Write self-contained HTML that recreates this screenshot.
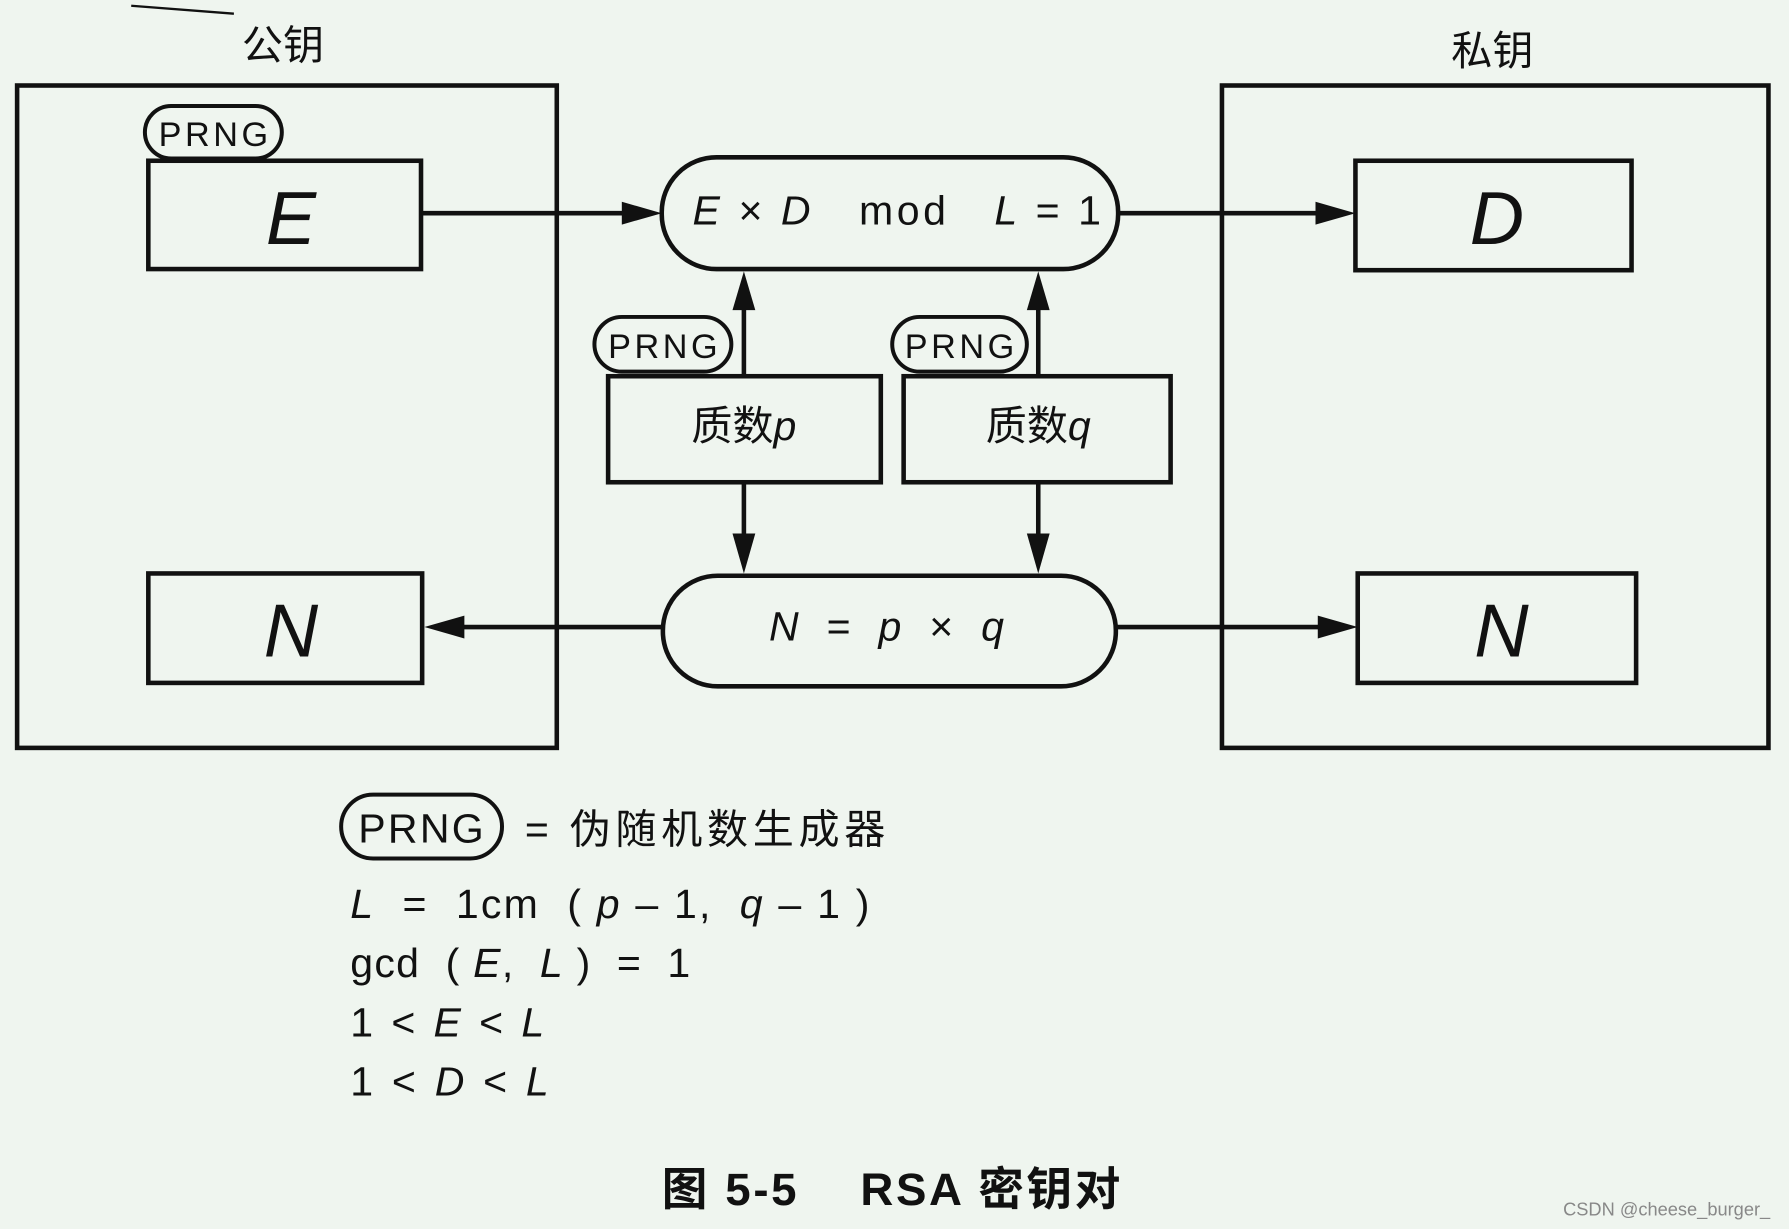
<!DOCTYPE html>
<html><head><meta charset="utf-8"><style>
html,body{margin:0;padding:0;background:#eff5ef;}
svg{display:block}
text{font-family:"Liberation Sans","Noto Sans CJK SC",sans-serif;fill:#111;white-space:pre}
.i{font-style:italic}
</style></head><body>
<svg width="1789" height="1229" viewBox="0 0 1568 1078" preserveAspectRatio="none" xmlns="http://www.w3.org/2000/svg">
<rect width="1568" height="1078" fill="#eff5ef"/>
<g stroke="#111" fill="none" stroke-width="4">
<path d="M115,5 L205,12" stroke-width="2"/>
<rect x="15" y="75" width="473" height="581"/>
<rect x="1071" y="75" width="479" height="581"/>
<rect x="130" y="141" width="239" height="95"/>
<rect x="130" y="503" width="240" height="96"/>
<rect x="1188" y="141" width="242" height="96"/>
<rect x="1190" y="503" width="244" height="96"/>
<rect x="580" y="138" width="400" height="98" rx="48"/>
<rect x="581" y="505" width="397" height="97" rx="48"/>
<rect x="533" y="330" width="239" height="93"/>
<rect x="792" y="330" width="234" height="93"/>
<rect x="127" y="93" width="120" height="46" rx="23" stroke-width="3.5"/>
<rect x="521" y="278" width="120" height="48" rx="24" stroke-width="3.5"/>
<rect x="782" y="278" width="118" height="48" rx="24" stroke-width="3.5"/>
<rect x="299" y="697" width="141" height="56" rx="28" stroke-width="3.5"/>
<line x1="369" y1="187" x2="548" y2="187"/>
<line x1="980" y1="187" x2="1155" y2="187"/>
<line x1="581" y1="550" x2="405" y2="550"/>
<line x1="978" y1="550" x2="1158" y2="550"/>
<line x1="652" y1="330" x2="652" y2="270"/>
<line x1="910" y1="330" x2="910" y2="270"/>
<line x1="652" y1="423" x2="652" y2="470"/>
<line x1="910" y1="423" x2="910" y2="470"/>
</g>
<g fill="#111">
<path d="M545,177 L580,187 L545,197 Z"/>
<path d="M1153,177 L1188,187 L1153,197 Z"/>
<path d="M407,540 L372,550 L407,560 Z"/>
<path d="M1155,540 L1190,550 L1155,560 Z"/>
<path d="M642,272 L652,238 L662,272 Z"/>
<path d="M900,272 L910,238 L920,272 Z"/>
<path d="M642,468 L652,503 L662,468 Z"/>
<path d="M900,468 L910,503 L920,468 Z"/>
</g>
<text x="248" y="52" font-size="36" text-anchor="middle">公钥</text>
<text x="1308" y="57" font-size="36" text-anchor="middle">私钥</text>
<text x="187" y="128" font-size="30" text-anchor="middle" textLength="96">PRNG</text>
<text x="581" y="314" font-size="30" text-anchor="middle" textLength="96">PRNG</text>
<text x="841" y="314" font-size="30" text-anchor="middle" textLength="96">PRNG</text>
<text x="369" y="739" font-size="36" text-anchor="middle" textLength="110">PRNG</text>
<text x="255" y="214" font-size="66" class="i" text-anchor="middle">E</text>
<text x="255" y="576" font-size="66" class="i" text-anchor="middle">N</text>
<text x="1312" y="214" font-size="66" class="i" text-anchor="middle">D</text>
<text x="1316" y="576" font-size="66" class="i" text-anchor="middle">N</text>
<text x="607" y="197" font-size="36" textLength="358"><tspan class="i">E</tspan> × <tspan class="i">D</tspan>   mod   <tspan class="i">L</tspan> = 1</text>
<text x="674" y="562" font-size="36" textLength="206"><tspan class="i">N</tspan>  =  <tspan class="i">p</tspan>  ×  <tspan class="i">q</tspan></text>
<text x="652" y="386" font-size="36" text-anchor="middle">质数<tspan class="i">p</tspan></text>
<text x="910" y="386" font-size="36" text-anchor="middle">质数<tspan class="i">q</tspan></text>
<text x="460" y="740" font-size="36" textLength="316">= 伪随机数生成器</text>
<text x="307" y="805" font-size="36" textLength="455"><tspan class="i">L</tspan>  =  1cm  ( <tspan class="i">p</tspan> – 1,  <tspan class="i">q</tspan> – 1 )</text>
<text x="307" y="857" font-size="36" textLength="298">gcd  ( <tspan class="i">E</tspan>,  <tspan class="i">L</tspan> )  =  1</text>
<text x="307" y="909" font-size="36" textLength="170">1 &lt; <tspan class="i">E</tspan> &lt; <tspan class="i">L</tspan></text>
<text x="307" y="961" font-size="36" textLength="174">1 &lt; <tspan class="i">D</tspan> &lt; <tspan class="i">L</tspan></text>
<text x="580" y="1057" font-size="40" font-weight="bold" textLength="402">图 5-5    RSA 密钥对</text>
<text x="1370" y="1066" font-size="16" style="fill:#888">CSDN @cheese_burger_</text>
</svg>
</body></html>
